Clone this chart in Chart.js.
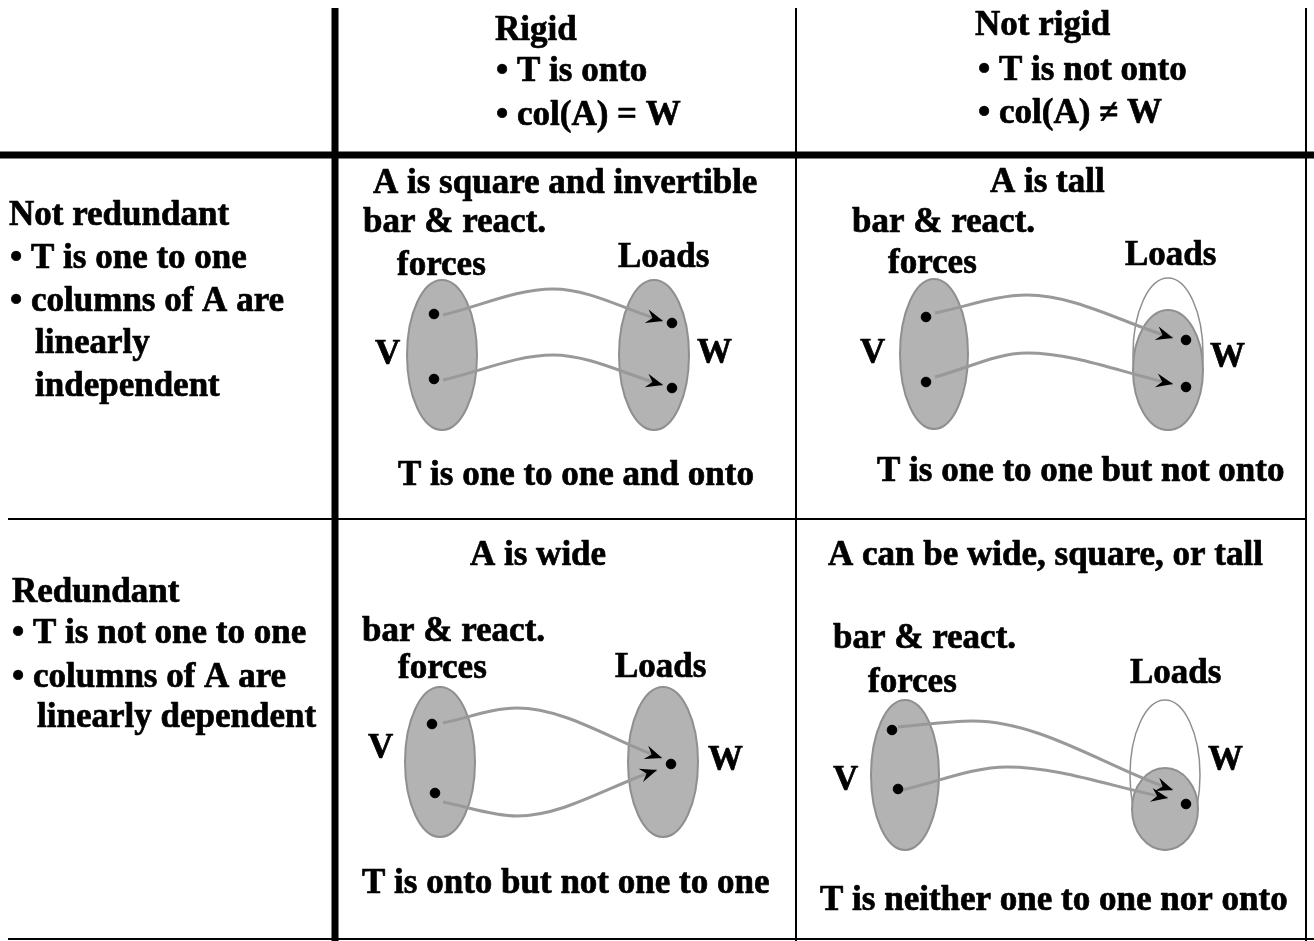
<!DOCTYPE html>
<html>
<head>
<meta charset="utf-8">
<title>Rigid / redundant table</title>
<script src="https://cdn.jsdelivr.net/npm/chart.js"></script>
<style>
  html, body { margin: 0; padding: 0; background: #fff; }
  #wrap { position: relative; width: 1314px; height: 941px; }
</style>
</head>
<body>
<div id="wrap"><canvas id="diagram"></canvas></div>
<script>
// Table rules: x1, y1, x2, y2
const thickRules = [[335, 8, 335, 941], [0, 155, 1314, 155]];
const thinRules = [[796, 8, 796, 941], [1306, 8, 1306, 941], [8, 519, 1306, 519], [8, 939, 1314, 939]];

// Sets V and W as ellipses: cx, cy, rx, ry
const filledSets = [
  [442, 355, 35, 75], [654, 355, 35, 75],
  [934, 354, 34, 75], [1168, 370, 35, 60],
  [440, 762, 35, 75], [663, 762, 35, 75],
  [905, 775, 34, 75], [1165, 809, 33, 41]
];
const outlineSets = [[1168, 354, 35, 76], [1165, 775, 35, 75]];

// Vectors inside the sets
const setPoints = [
  [434, 314], [434, 379], [672, 323], [672, 388],
  [926, 317], [926, 382], [1186, 340], [1186, 387],
  [432, 724], [435, 793], [671, 764],
  [892, 730], [898, 789], [1186, 804]
];

// Mapping arrows: start, bend, tip
const mapArrows = [
  [[443, 315], [553, 289], [663, 321]],
  [[443, 380], [553, 355], [663, 385]],
  [[935, 313], [1027, 295], [1173, 338]],
  [[935, 377], [1027, 353], [1173, 384]],
  [[443, 723], [517, 708], [662, 758]],
  [[443, 802], [517, 816], [657, 770]],
  [[898, 727], [973, 721], [1173, 790]],
  [[902, 790], [1007, 767], [1168, 798]]
];

// Text: string, x, baseline
const columnHeads = [
  ['Rigid', 495, 40], ['\u2022 T is onto', 496, 81], ['\u2022 col(A) = W', 496, 125],
  ['Not rigid', 975, 35], ['\u2022 T is not onto', 978, 80], ['\u2022 col(A) \u2260 W', 978, 123]
];
const rowHeads = [
  ['Not redundant', 9, 225], ['\u2022 T is one to one', 10, 268], ['\u2022 columns of A are', 10, 311],
  ['linearly', 35, 353], ['independent', 35, 396],
  ['Redundant', 12, 602], ['\u2022 T is not one to one', 12, 643], ['\u2022 columns of A are', 12, 687],
  ['linearly dependent', 37, 727]
];
const cellNotes = [
  ['A is square and invertible', 373, 193], ['bar & react.', 363, 232], ['forces', 397, 275],
  ['Loads', 618, 267], ['V', 375, 364], ['W', 697, 363], ['T is one to one and onto', 398, 485],
  ['A is tall', 990, 192], ['bar & react.', 852, 232], ['forces', 888, 273],
  ['Loads', 1125, 265], ['V', 860, 363], ['W', 1210, 367], ['T is one to one but not onto', 877, 481],
  ['A is wide', 470, 565], ['bar & react.', 362, 641], ['forces', 398, 678],
  ['Loads', 615, 677], ['V', 368, 758], ['W', 708, 770], ['T is onto but not one to one', 362, 893],
  ['A can be wide, square, or tall', 828, 565], ['bar & react.', 833, 648], ['forces', 868, 692],
  ['Loads', 1130, 683], ['V', 833, 790], ['W', 1208, 770], ['T is neither one to one nor onto', 820, 910]
];

const FONT = 'bold 35px "Liberation Serif", "Times New Roman", serif';

const toXY = p => ({ x: p[0], y: p[1] });

function ruleSet(list, width) {
  return list.map(r => ({
    type: 'line',
    data: [{ x: r[0], y: r[1] }, { x: r[2], y: r[3] }],
    borderColor: '#000',
    borderWidth: width,
    pointRadius: 0,
    showLine: true,
    clip: false,
    order: 3
  }));
}

const arrowSets = mapArrows.map(a => ({
  type: 'line',
  data: a.map(toXY),
  borderColor: '#999999',
  borderWidth: 3,
  pointRadius: 0,
  cubicInterpolationMode: 'monotone',
  showLine: true,
  clip: false,
  order: 2,
  isArrow: true
}));

const pointSet = {
  type: 'scatter',
  data: setPoints.map(toXY),
  backgroundColor: '#000',
  borderColor: '#000',
  pointRadius: 4.8,
  clip: false,
  order: 1
};

// ellipses under everything, arrowheads and text on top
const diagramPlugin = {
  id: 'diagram',
  beforeDatasetsDraw(chart) {
    const { ctx, scales: { x, y } } = chart;
    const drawEllipse = (e, fill) => {
      const cx = x.getPixelForValue(e[0]), cy = y.getPixelForValue(e[1]);
      const rx = Math.abs(x.getPixelForValue(e[0] + e[2]) - cx);
      const ry = Math.abs(y.getPixelForValue(e[1] + e[3]) - cy);
      ctx.beginPath();
      ctx.ellipse(cx, cy, rx, ry, 0, 0, Math.PI * 2);
      if (fill) {
        ctx.fillStyle = '#b3b3b3';
        ctx.fill();
        ctx.lineWidth = 2;
      } else {
        ctx.lineWidth = 1.5;
      }
      ctx.strokeStyle = '#8f8f8f';
      ctx.stroke();
    };
    ctx.save();
    outlineSets.forEach(e => drawEllipse(e, false));
    filledSets.forEach(e => drawEllipse(e, true));
    ctx.restore();
  },
  afterDatasetsDraw(chart) {
    const { ctx, scales: { x, y } } = chart;
    ctx.save();
    // arrowheads at the end of each map curve
    chart.data.datasets.forEach((ds, i) => {
      if (!ds.isArrow) return;
      const pts = chart.getDatasetMeta(i).data;
      const tip = pts[pts.length - 1];
      let bx = tip.cp1x, by = tip.cp1y;
      if (bx === undefined || (bx === tip.x && by === tip.y)) {
        bx = pts[pts.length - 2].x; by = pts[pts.length - 2].y;
      }
      const ang = Math.atan2(tip.y - by, tip.x - bx);
      ctx.save();
      ctx.translate(tip.x, tip.y);
      ctx.rotate(ang);
      ctx.beginPath();
      ctx.moveTo(0, 0);
      ctx.lineTo(-17, -7);
      ctx.lineTo(-11, 0);
      ctx.lineTo(-17, 7);
      ctx.closePath();
      ctx.fillStyle = '#000';
      ctx.fill();
      ctx.restore();
    });
    // labels, with a hairline stroke to match the heavy print weight
    ctx.font = FONT;
    ctx.fillStyle = '#000';
    ctx.strokeStyle = '#000';
    ctx.lineWidth = 0.7;
    ctx.lineJoin = 'round';
    ctx.textAlign = 'left';
    ctx.textBaseline = 'alphabetic';
    [columnHeads, rowHeads, cellNotes].forEach(group => {
      group.forEach(t => {
        const px = x.getPixelForValue(t[1]), py = y.getPixelForValue(t[2]);
        ctx.fillText(t[0], px, py);
        ctx.strokeText(t[0], px, py);
      });
    });
    ctx.restore();
  }
};

const chart = new Chart(document.getElementById('diagram').getContext('2d'), {
  type: 'scatter',
  data: {
    datasets: [pointSet, ...arrowSets, ...ruleSet(thickRules, 7), ...ruleSet(thinRules, 2)]
  },
  options: {
    responsive: true,
    maintainAspectRatio: false,
    animation: false,
    events: [],
    layout: { padding: 0, autoPadding: false },
    plugins: {
      legend: { display: false },
      tooltip: { enabled: false },
      title: { display: false }
    },
    scales: {
      x: { type: 'linear', min: 0, max: 1314, display: false },
      y: { type: 'linear', min: 0, max: 941, reverse: true, display: false }
    }
  },
  plugins: [diagramPlugin]
});
</script>
</body>
</html>
